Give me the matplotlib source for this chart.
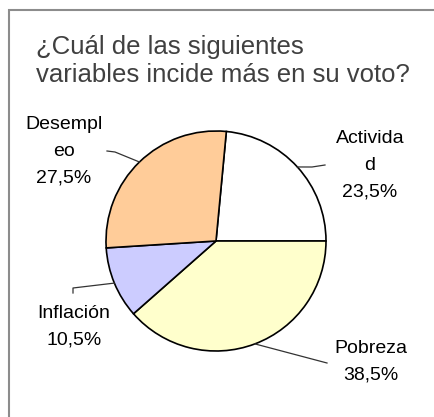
import numpy as np
import matplotlib.pyplot as plt
from matplotlib.patches import Rectangle

plt.rcParams['font.family'] = ['Liberation Sans', 'DejaVu Sans']

# data
labels = ['Activida\nd', 'Pobreza', 'Inflación', 'Desempl\neo']
values = [23.5, 38.5, 10.5, 27.5]
colors = ['#FFFFFF', '#FFFFCC', '#CCCCFF', '#FFCC99']
title = '¿Cuál de las siguientes\nvariables incide más en su voto?'

W, H = 435, 417
CX, CY, R = 216, 241, 110   # pie centre / radius in pixels


def px(x, y):
    # pixel (from top-left) -> data units of the full-figure axes
    return (x - CX) / R, (CY - y) / R


fig = plt.figure(figsize=(W / 100, H / 100), dpi=100)
ax = fig.add_axes([0, 0, 1, 1])

# chart border
fig.patches.append(Rectangle((9 / W, -0.1), 1.2, 1 - 9.5 / H + 0.1, transform=fig.transFigure,
                             fill=False, edgecolor='#8c8c8c', linewidth=1.5))

start = values[0] / sum(values) * 360
wedges, _ = ax.pie(values, colors=colors, startangle=start, counterclock=False,
                   radius=1, center=(0, 0), frame=True,
                   wedgeprops=dict(edgecolor='black', linewidth=1.2))
ax.set_xlim(-CX / R, (W - CX) / R)
ax.set_ylim((CY - H) / R, CY / R)
ax.set_aspect('equal')
ax.axis('off')

# label positions (pixel centres) and leader elbows
label_pos = [(370, 165), (371, 362), (74, 327), (64, 151)]
leader_pts = [[(312, 167), (325, 165)],
              [(327, 363)],
              [(73, 288), (73, 293)],
              [(115, 152), (107, 151)]]

for w, lab, v, pos, pts in zip(wedges, labels, values, label_pos, leader_pts):
    mid = np.deg2rad((w.theta1 + w.theta2) / 2)
    xs = [np.cos(mid)] + [px(*p)[0] for p in pts]
    ys = [np.sin(mid)] + [px(*p)[1] for p in pts]
    ax.plot(xs, ys, color='#333333', linewidth=0.9)
    txt = f'{lab}\n{v:.1f}%'.replace('.', ',')
    tx, ty = px(*pos)
    ax.text(tx, ty, txt, ha='center', va='center', fontsize=14, linespacing=1.75,
            color='black')

fig.text(36 / W, 1 - 35 / H, title, ha='left', va='top', fontsize=18.5,
         color='#404040', linespacing=1.2)

fig.savefig('out.png', dpi=100)
